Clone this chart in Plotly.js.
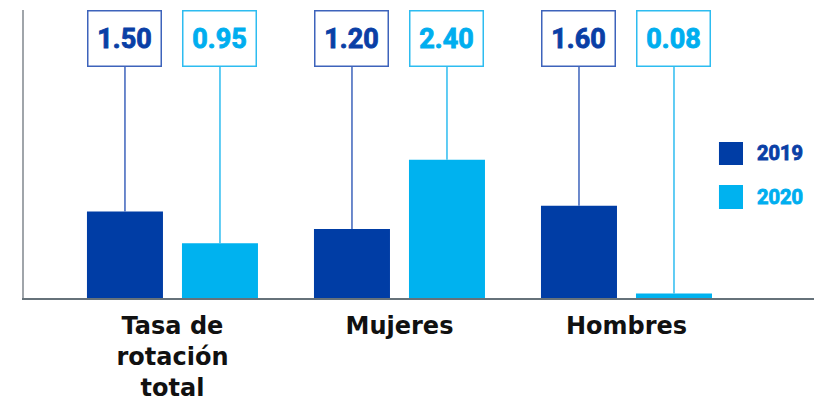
<!DOCTYPE html>
<html>
<head>
<meta charset="utf-8">
<script src="https://cdn.plot.ly/plotly-3.0.1.min.js"></script>
<style>
html,body{margin:0;padding:0;background:#fff;}
#chart{width:827px;height:403px;}
</style>
</head>
<body>
<div id="chart"></div>
<script>
// ---- data ----
const categories = ["Tasa de<br>rotación<br>total", "Mujeres", "Hombres"];
const seriesNames = ["2019", "2020"];
const values2019 = [1.50, 1.20, 1.60];
const values2020 = [0.95, 2.40, 0.08];
const labels2019 = ["1.50", "1.20", "1.60"];
const labels2020 = ["0.95", "2.40", "0.08"];

// ---- style ----
const barColors = ["#003da5", "#00b2ef"];
const lineColors = ["#3d63bb", "#2dbcf0"];
const textColors = ["#0a3fa6", "#00aeef"];
const bargap = 0.163, bargroupgap = 0.2;
const slot = (1 - bargap) / 2;
const boxBottom = 4.01;   // data units where connector lines meet label boxes
const boxCenter = 4.505;

function barTrace(vals, i) {
  return {
    type: "bar",
    x: categories,
    y: vals,
    name: seriesNames[i],
    marker: {color: barColors[i], line: {width: 0}},
    hoverinfo: "skip",
    showlegend: false,
    error_y: {
      type: "data", symmetric: false,
      array: vals.map(v => boxBottom - v),
      arrayminus: vals.map(() => 0),
      width: 0, thickness: 1.5, color: lineColors[i]
    }
  };
}

const traces = [barTrace(values2019, 0), barTrace(values2020, 1)];

const annotations = [];
[labels2019, labels2020].forEach((labs, s) => {
  labs.forEach((t, k) => {
    annotations.push({
      x: k + (s === 0 ? -slot / 2 : slot / 2), xref: "x",
      y: boxCenter, yref: "y",
      text: t, showarrow: false,
      font: {family: "Roboto", size: 27, color: textColors[s], weight: "bold"},
      width: 72, height: 54, borderpad: 0,
      bordercolor: lineColors[s], borderwidth: 1.5, bgcolor: "#ffffff",
      xanchor: "center", yanchor: "middle"
    });
  });
});

// legend drawn manually
const shapes = [];
const legendY = [[0.5417, 0.4618], [0.3924, 0.309]];
seriesNames.forEach((n, s) => {
  shapes.push({type: "rect", xref: "paper", yref: "paper",
    x0: 0.8797, x1: 0.9101, y0: legendY[s][1], y1: legendY[s][0],
    fillcolor: barColors[s], line: {width: 0}});
  annotations.push({xref: "paper", yref: "paper", x: 0.9253,
    y: (legendY[s][0] + legendY[s][1]) / 2,
    text: n, showarrow: false, xanchor: "left", yanchor: "middle",
    font: {family: "Roboto", size: 20, color: textColors[s], weight: "bold"}});
});

const layout = {
  width: 827, height: 403,
  margin: {l: 24, r: 13, t: 10, b: 105},
  paper_bgcolor: "#ffffff", plot_bgcolor: "#ffffff",
  barmode: "group", bargap: bargap, bargroupgap: bargroupgap,
  showlegend: false,
  xaxis: {
    type: "category",
    range: [-0.654, 2.826],
    showline: true, linecolor: "#66727a", linewidth: 2,
    showgrid: false, zeroline: false, ticks: "",
    ticklabelstandoff: 5,
    tickfont: {family: "DejaVu Sans", size: 24, color: "#111111", weight: "bold"},
    automargin: false, fixedrange: true
  },
  yaxis: {
    range: [0, 5],
    showline: true, linecolor: "#a0a5aa", linewidth: 2,
    showgrid: false, zeroline: false, showticklabels: false, ticks: "",
    automargin: false, fixedrange: true
  },
  shapes: shapes,
  annotations: annotations
};

Plotly.newPlot("chart", traces, layout, {displayModeBar: false, staticPlot: true}).then(() => {
  // thicken label glyphs to match the heavy display face of the original
  document.querySelectorAll("#chart .annotation-text").forEach(el => {
    const f = el.style.fill;
    el.style.stroke = f;
    el.style.strokeWidth = "0.9px";
  });
});
</script>
</body>
</html>
